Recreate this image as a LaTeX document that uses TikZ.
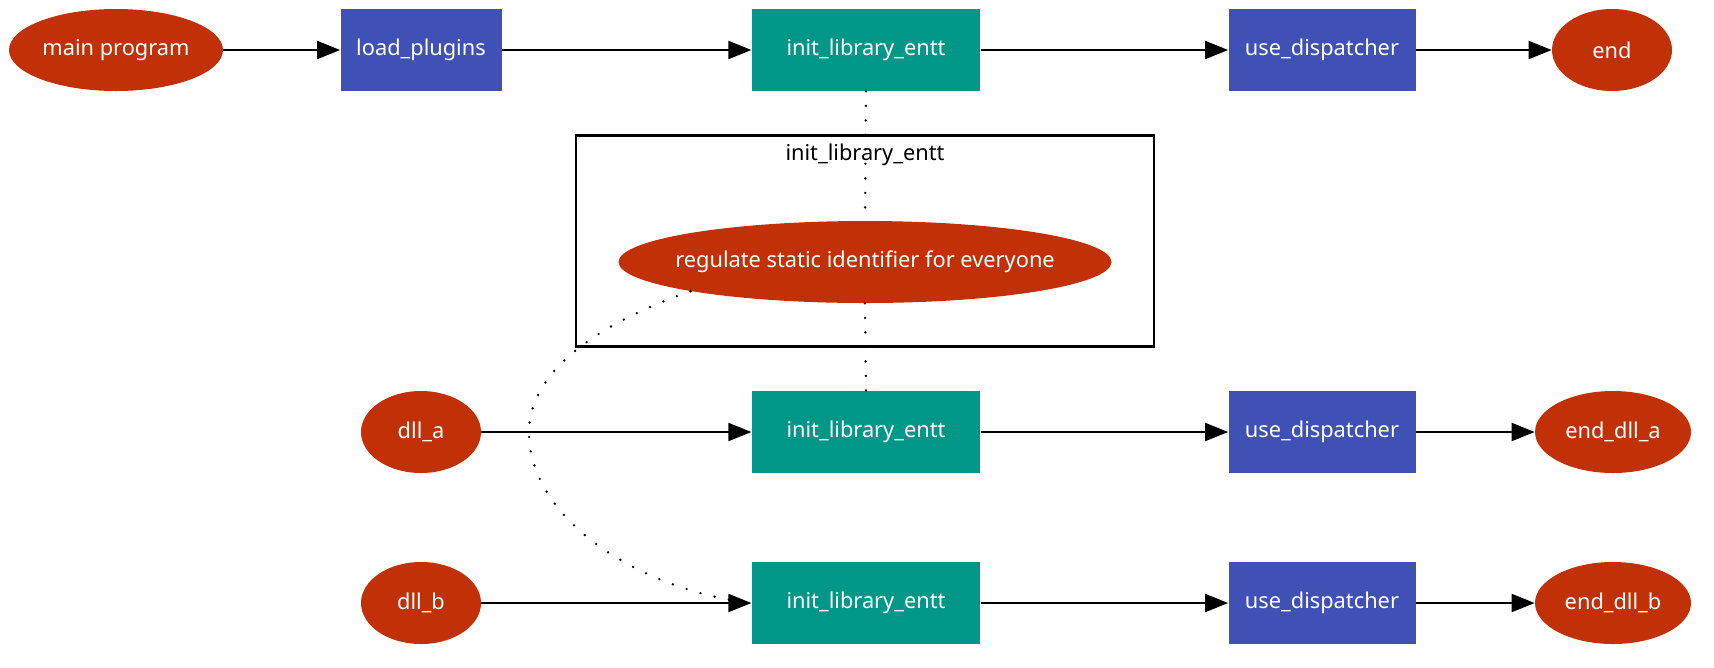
\documentclass[tikz,border=0pt]{standalone}
\usepackage{fontspec}
\setmainfont{Noto Sans}
\usetikzlibrary{shapes.geometric, arrows.meta}
\definecolor{ovalred}{RGB}{194,48,8}
\definecolor{stepblue}{RGB}{63,81,181}
\definecolor{initteal}{RGB}{0,150,136}
\begin{document}
\begin{tikzpicture}[x=0.2mm, y=-0.2mm,
  every node/.style={font=\fontsize{12.4}{15}\selectfont},
  oval/.style={ellipse, fill=ovalred, text=white, inner sep=0pt, minimum height=16.4mm},
  stepbox/.style={rectangle, fill=stepblue, text=white, inner sep=0pt, minimum width=37.4mm, minimum height=16.4mm},
  initbox/.style={rectangle, fill=initteal, text=white, inner sep=0pt, minimum width=45.7mm, minimum height=16.4mm},
  flow/.style={line width=1.1pt, -{Triangle[length=4.6mm, width=3.6mm]}},
  link/.style={line width=1.5pt, line cap=round, dash pattern=on 0pt off 2.9mm}]
  \useasboundingbox (0,0) rectangle (1714,667);
  % main program
  \node[oval, minimum width=42.8mm] (main) at (116,50) {main program};
  \node[stepbox, minimum width=32.2mm] (load) at (421,50) {load\_plugins};
  \node[initbox] (inittop) at (866,50) {init\_library\_entt};
  \node[stepbox] (usetop) at (1322,50) {use\_dispatcher};
  \node[oval, minimum width=24mm] (end) at (1612,50) {end};
  \draw[flow] (main) -- (load);
  \draw[flow] (load) -- (inittop);
  \draw[flow] (inittop) -- (usetop);
  \draw[flow] (usetop) -- (end);
  % cluster
  \node[draw, line width=1.2pt, minimum width=115.7mm, minimum height=42.2mm, inner sep=0pt] (cluster) at (865,241) {};
  \node (clustertitle) at (865,155) {init\_library\_entt};
  \node[oval, minimum width=98.6mm, inner xsep=-3.5mm] (regulate) at (865,262) {regulate static identifier for everyone};
  % dll_a
  \node[oval, minimum width=24mm] (dlla) at (421,432) {dll\_a};
  \node[initbox] (inita) at (866,432) {init\_library\_entt};
  \node[stepbox] (usea) at (1322,432) {use\_dispatcher};
  \node[oval, minimum width=31.2mm] (enda) at (1613,432) {end\_dll\_a};
  \draw[flow] (dlla) -- (inita);
  \draw[flow] (inita) -- (usea);
  \draw[flow] (usea) -- (enda);
  % dll_b
  \node[oval, minimum width=24mm] (dllb) at (421,603) {dll\_b};
  \node[initbox] (initb) at (866,603) {init\_library\_entt};
  \node[stepbox] (useb) at (1322,603) {use\_dispatcher};
  \node[oval, minimum width=31.2mm] (endb) at (1613,603) {end\_dll\_b};
  \draw[flow] (dllb) -- (initb);
  \draw[flow] (initb) -- (useb);
  \draw[flow] (useb) -- (endb);
  % dotted links
  \draw[link] (inittop.south) -- (regulate.north);
  \draw[link] (regulate.south) -- (inita.north);
  \draw[link] (regulate.south west) .. controls (580,330) and (529,380) .. (529,432)
    .. controls (529,520) and (640,590) .. (initb.west);
\end{tikzpicture}
\end{document}
